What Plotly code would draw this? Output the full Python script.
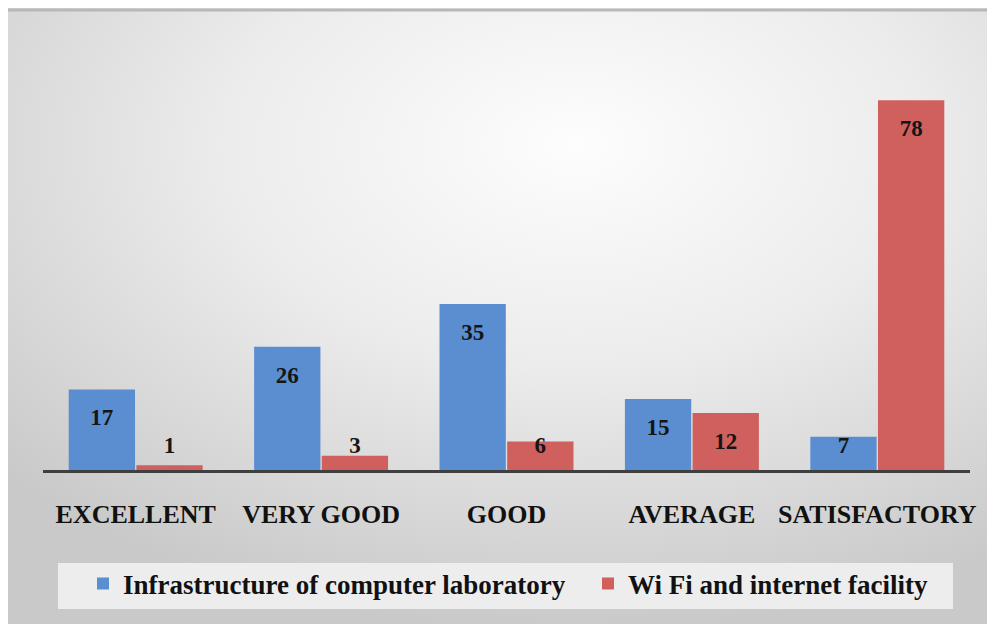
import base64
import plotly.graph_objects as go

categories = ["EXCELLENT", "VERY GOOD", "GOOD", "AVERAGE", "SATISFACTORY"]
infra_values = [17, 26, 35, 15, 7]
wifi_values = [1, 3, 6, 12, 78]
series_names = ["Infrastructure of computer laboratory", "Wi Fi and internet facility"]

BLUE = "#5b8ed1"
RED = "#cf605e"
FONT = "Liberation Serif"

# Data-label placement like Excel "inside end": a bit below the bar top, but never below a floor
def label_y(v):
    return max(v - 6.4, 4.9)

fig = go.Figure()
for name, vals, col, lg in [(series_names[0], infra_values, BLUE, "legend"),
                            (series_names[1], wifi_values, RED, "legend2")]:
    fig.add_trace(go.Bar(
        x=categories, y=vals, name=name, marker=dict(color=col, line=dict(width=0)),
        offsetgroup=name, textposition="none", hoverinfo="skip", legend=lg))

for name, vals in [(series_names[0], infra_values), (series_names[1], wifi_values)]:
    fig.add_trace(go.Scatter(
        x=categories, y=[label_y(v) for v in vals], text=[str(v) for v in vals],
        mode="text", offsetgroup=name, showlegend=False, hoverinfo="skip",
        textfont=dict(family=FONT, size=23, color="#151515", weight="bold")))

svg = """<svg xmlns='http://www.w3.org/2000/svg' width='995' height='624'>
<defs><radialGradient id='g' cx='0.57' cy='0.22' r='0.78'>
<stop offset='0' stop-color='#fdfdfd'/><stop offset='0.45' stop-color='#ececec'/>
<stop offset='1' stop-color='#c9c9c9'/></radialGradient></defs>
<rect width='995' height='624' fill='url(#g)'/>
<line x1='0' y1='2' x2='995' y2='2' stroke='#b8b8b8' stroke-width='3'/>
</svg>"""
src = "data:image/svg+xml;base64," + base64.b64encode(svg.encode()).decode()

W, H = 995, 624
L, R, T, B = 35, 33, 22, 162
pw, ph = W - L - R, H - T - B

legend_font = dict(family=FONT, size=27, color="#111111", weight="bold")
fig.update_layout(
    width=W, height=H,
    margin=dict(l=L, r=R, t=T, b=B, pad=0, autoexpand=False),
    paper_bgcolor="white", plot_bgcolor="rgba(0,0,0,0)",
    barmode="group", bargap=0.27, bargroupgap=0.02,
    scattermode="group", scattergap=0.27,
    images=[dict(source=src, xref="paper", yref="paper",
                 x=-L / pw, y=1 + T / ph, sizex=W / pw, sizey=H / ph,
                 xanchor="left", yanchor="top", sizing="stretch", layer="below")],
    shapes=[dict(type="rect", xref="paper", yref="paper",
                 x0=(50 - L) / pw, x1=(945 - L) / pw,
                 y0=-(555 - T - ph) / ph, y1=-(601 - T - ph) / ph,
                 fillcolor="#ededed", line=dict(width=0), layer="below")],
    xaxis=dict(showline=True, linecolor="#3f3f3f", linewidth=3, ticks="",
               showgrid=False, ticklabelstandoff=19,
               tickfont=dict(family=FONT, size=26, color="#111111", weight="bold")),
    yaxis=dict(range=[0, 92.8], visible=False, showgrid=False, zeroline=False),
    legend=dict(orientation="h", x=(75 - L) / pw, xanchor="left", y=-0.259, yanchor="middle",
                bgcolor="rgba(0,0,0,0)", font=legend_font),
    legend2=dict(orientation="h", x=(580 - L) / pw, xanchor="left", y=-0.259, yanchor="middle",
                 bgcolor="rgba(0,0,0,0)", font=legend_font),
    showlegend=True,
)

fig.write_html("out.html")
